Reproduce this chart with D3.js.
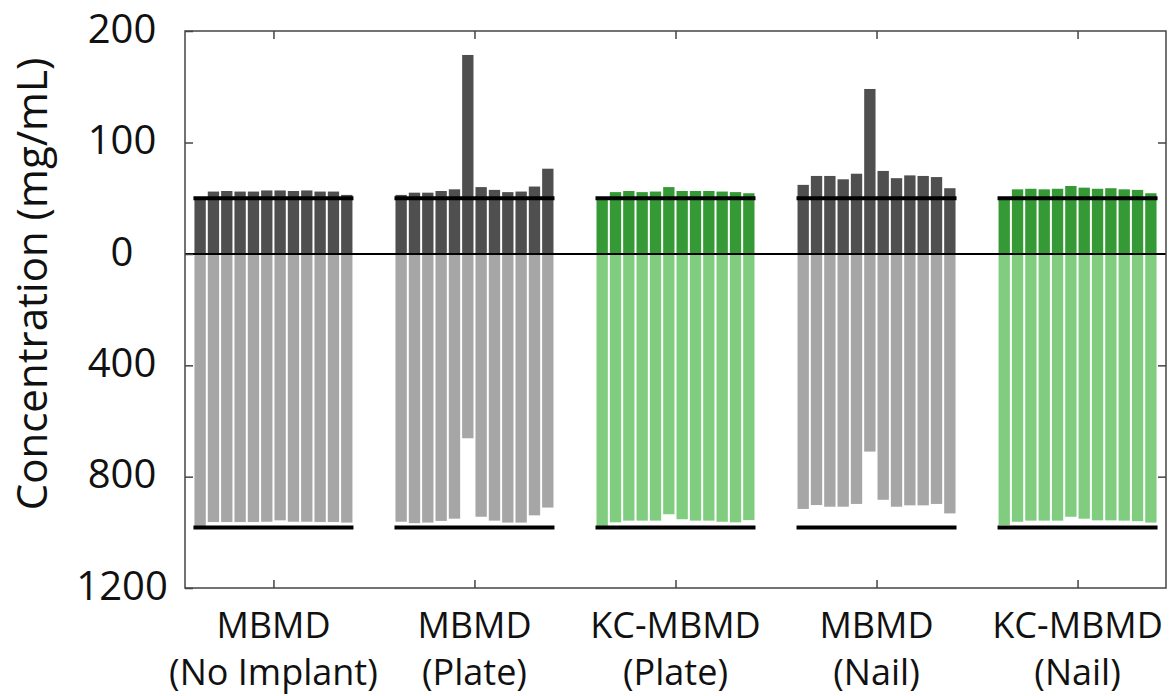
<!DOCTYPE html>
<html>
<head>
<meta charset="utf-8">
<script src="https://cdn.jsdelivr.net/npm/d3@7"></script>
<style>
  body { margin: 0; background: #fff; }
  text { font-family: "Open Sans", sans-serif; fill: #111; }
</style>
</head>
<body>
<div id="chart"></div>
<script>
// categories (two-line labels)
const categories = ["MBMD|(No Implant)", "MBMD|(Plate)", "KC-MBMD|(Plate)", "MBMD|(Nail)", "KC-MBMD|(Nail)"];

// upper panel values (mg/mL), 12 samples per group
const topNoImplant = [51, 56, 56.5, 56, 56, 57, 57, 56.5, 57, 56, 56, 53];
const topPlate     = [53, 55, 55, 56.5, 58, 178.5, 60, 57.5, 55.5, 56, 60.5, 76.5];
const topKCPlate   = [50, 55.5, 56.5, 55.5, 56, 60, 56.5, 56.5, 56.5, 56, 55.5, 54.5];
const topNail      = [62, 70, 70, 67, 72, 148, 74.5, 68, 70.5, 70, 69, 59];
const topKCNail    = [50, 58, 58.5, 58, 58.5, 61, 59.5, 58.5, 59, 58, 57.5, 54.5];

// lower panel values (mg/mL)
const botNoImplant = [980, 963, 963, 963, 963, 962, 957, 962, 962, 963, 963, 965];
const botPlate     = [962, 967, 965, 959, 951, 662, 944, 958, 965, 965, 939, 911];
const botKCPlate   = [977, 964, 958, 958, 958, 935, 953, 958, 958, 962, 964, 956];
const botNail      = [916, 902, 908, 908, 898, 710, 883, 908, 903, 903, 898, 932];
const botKCNail    = [974, 962, 958, 958, 958, 944, 951, 957, 957, 958, 960, 965];

// reference levels
const refTop = 50;
const refBottom = 983;

const topTicks = [0, 100, 200];
const bottomTicks = [400, 800, 1200];

const topSeries = [topNoImplant, topPlate, topKCPlate, topNail, topKCNail];
const botSeries = [botNoImplant, botPlate, botKCPlate, botNail, botKCNail];
const isKC = [false, false, true, false, true];

const W = 1174, H = 696;
const pL = 185, pR = 1166, pT = 31, pB = 588, zeroY = 254;

const svg = d3.select("#chart").append("svg").attr("width", W).attr("height", H);

const x = d3.scalePoint().domain(categories).range([pL, pR]).padding(0.44);
const inner = d3.scaleBand().domain(d3.range(12)).range([-79, 79]).paddingInner(0.15).paddingOuter(0);
const yTop = d3.scaleLinear().domain([0, 200]).range([zeroY, pT]);
const yBot = d3.scaleLinear().domain([0, 1200]).range([zeroY, pB]);

const colors = {
  top: "#4f4f4f", bot: "#a6a6a6",
  kcTop: "#359a35", kcBot: "#80cd80"
};

// bars
categories.forEach((c, gi) => {
  const g = svg.append("g").attr("transform", "translate(" + x(c) + ",0)");
  g.selectAll(".tb").data(topSeries[gi]).enter().append("rect")
    .attr("x", (d, i) => inner(i))
    .attr("width", inner.bandwidth())
    .attr("y", d => yTop(d))
    .attr("height", d => yTop(0) - yTop(d))
    .attr("fill", isKC[gi] ? colors.kcTop : colors.top);
  g.selectAll(".bb").data(botSeries[gi]).enter().append("rect")
    .attr("x", (d, i) => inner(i))
    .attr("width", inner.bandwidth())
    .attr("y", yBot(0))
    .attr("height", d => yBot(d) - yBot(0))
    .attr("fill", isKC[gi] ? colors.kcBot : colors.bot);
  // reference lines
  g.append("line").attr("x1", inner(0) - 1).attr("x2", inner(11) + inner.bandwidth() + 1)
    .attr("y1", yTop(refTop)).attr("y2", yTop(refTop))
    .attr("stroke", "#000").attr("stroke-width", 4);
  g.append("line").attr("x1", inner(0) - 1).attr("x2", inner(11) + inner.bandwidth() + 1)
    .attr("y1", yBot(refBottom)).attr("y2", yBot(refBottom))
    .attr("stroke", "#000").attr("stroke-width", 4);
});

// zero line
svg.append("line").attr("x1", pL).attr("x2", pR)
  .attr("y1", yTop(0)).attr("y2", yTop(0))
  .attr("stroke", "#000").attr("stroke-width", 2.2);

// frame
svg.append("rect").attr("x", pL).attr("y", pT)
  .attr("width", pR - pL).attr("height", pB - pT)
  .attr("fill", "none").attr("stroke", "#444").attr("stroke-width", 1.5);

// left axis, both parts
const axL1 = svg.append("g").attr("transform", "translate(" + pL + ",0)")
  .call(d3.axisLeft(yTop).tickValues(topTicks).tickSize(-8).tickFormat(d3.format("d")));
const axL2 = svg.append("g").attr("transform", "translate(" + pL + ",0)")
  .call(d3.axisLeft(yBot).tickValues(bottomTicks).tickSize(-8).tickFormat(d3.format("d")));
[axL1, axL2].forEach(a => {
  a.select(".domain").remove();
  a.selectAll("line").attr("stroke", "#444").attr("stroke-width", 1.5);
  a.selectAll("text")
    .attr("x", -63).attr("dy", null).attr("y", 11)
    .attr("text-anchor", "middle")
    .style("font-size", "40px").style("font-family", "Open Sans, sans-serif").attr("fill", "#111");
});

// right axis ticks
[[yTop, [100]], [yBot, [400, 800]]].forEach(([s, v]) => {
  svg.append("g").attr("transform", "translate(" + pR + ",0)")
    .call(d3.axisRight(s).tickValues(v).tickSize(-8).tickFormat(""))
    .call(a => a.select(".domain").remove())
    .selectAll("line").attr("stroke", "#444").attr("stroke-width", 1.5);
});

// top and bottom ticks
svg.append("g").attr("transform", "translate(0," + pT + ")")
  .call(d3.axisTop(x).tickSize(-8).tickFormat(""))
  .call(a => a.select(".domain").remove())
  .selectAll("line").attr("stroke", "#444").attr("stroke-width", 1.5);
const axB = svg.append("g").attr("transform", "translate(0," + pB + ")")
  .call(d3.axisBottom(x).tickSize(-8).tickFormat(""));
axB.select(".domain").remove();
axB.selectAll("line").attr("stroke", "#444").attr("stroke-width", 1.5);

// category labels
categories.forEach(c => {
  const parts = c.split("|");
  const t = svg.append("text").attr("text-anchor", "middle")
    .style("font-size", "36px");
  t.append("tspan").attr("x", x(c)).attr("y", 638).text(parts[0]);
  t.append("tspan").attr("x", x(c)).attr("y", 685).text(parts[1]);
});

// y-axis title
svg.append("text")
  .attr("transform", "translate(47,284) rotate(-90)")
  .attr("text-anchor", "middle")
  .style("font-size", "42px")
  .text("Concentration (mg/mL)");
</script>
</body>
</html>
